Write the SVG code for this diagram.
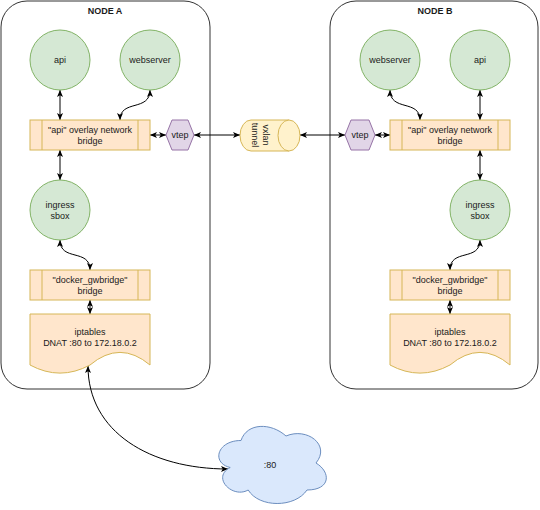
<svg xmlns="http://www.w3.org/2000/svg" width="540" height="510" viewBox="0 0 540 510">
<defs>
<marker id="arr" markerUnits="userSpaceOnUse" markerWidth="8" markerHeight="8" refX="7" refY="3" orient="auto-start-reverse" viewBox="0 0 8 6">
<path d="M0,0 L7,3 L0,6 L1.75,3 Z" fill="#000"/>
</marker>
</defs>
<style>
text{font-family:"Liberation Sans",Arial,sans-serif;font-size:9px;fill:#1a1a1a;text-anchor:middle}
.title{font-weight:bold}
.container{fill:#fff;stroke:#333;stroke-width:1}
.circ{fill:#d5e8d4;stroke:#82b366;stroke-width:1}
.bridge{fill:#ffe6cc;stroke:#d6b656;stroke-width:1}
.vtep{fill:#e1d5e7;stroke:#9673a6;stroke-width:1}
.cyl{fill:#fff2cc;stroke:#d6b656;stroke-width:1}
.cloud{fill:#dae8fc;stroke:#6c8ebf;stroke-width:1}
.edge{fill:none;stroke:#000;stroke-width:1;marker-start:url(#arr);marker-end:url(#arr)}
</style>
<g id="nodeA">
<rect class="container" x="1" y="1" width="209" height="388" rx="26" ry="26"/>
<text class="title" x="105" y="14">NODE A</text>
</g>
<g id="nodeB">
<rect class="container" x="330" y="1" width="208" height="388" rx="26" ry="26"/>
<text class="title" x="435" y="14">NODE B</text>
</g>
<g id="connectors">
<path class="edge" d="M60,90 L60,120"/>
<path class="edge" d="M150,90 C150,112 120,99 120,120"/>
<path class="edge" d="M150,135 L166,135"/>
<path class="edge" d="M194,135 L240,135"/>
<path class="edge" d="M60,150 L60,180"/>
<path class="edge" d="M60,240 C60,262 90,248 90,270"/>
<path class="edge" d="M90,300 L90,314"/>
<path class="edge" d="M88,366 C88,432 150,469 228,469"/>
<path class="edge" d="M300,135 L345,135"/>
<path class="edge" d="M375,135 L390,135"/>
<path class="edge" d="M480,90 L480,120"/>
<path class="edge" d="M390,90 C390,112 420,99 420,120"/>
<path class="edge" d="M480,150 L480,180"/>
<path class="edge" d="M480,240 C480,262 450,248 450,270"/>
<path class="edge" d="M450,300 L450,314"/>
</g>
<g id="a-api">
<circle class="circ" cx="60" cy="60" r="30"/>
<text x="60" y="63">api</text>
</g>
<g id="a-webserver">
<circle class="circ" cx="150" cy="60" r="30"/>
<text x="150" y="63">webserver</text>
</g>
<g id="a-overlay">
<rect class="bridge" x="30" y="120" width="120" height="30"/>
<path class="bridge" d="M42,120 V150 M138,120 V150"/>
<text x="90" y="133">"api" overlay network</text>
<text x="90" y="144">bridge</text>
</g>
<g id="a-vtep">
<polygon class="vtep" points="172,120 188,120 194,135 188,150 172,150 166,135"/>
<text x="180" y="138">vtep</text>
</g>
<g id="a-ingress">
<circle class="circ" cx="60" cy="210" r="30"/>
<text x="60" y="208">ingress</text>
<text x="60" y="219">sbox</text>
</g>
<g id="a-gwbridge">
<rect class="bridge" x="30" y="270" width="120" height="30"/>
<path class="bridge" d="M42,270 V300 M138,270 V300"/>
<text x="90" y="283">"docker_gwbridge"</text>
<text x="90" y="294">bridge</text>
</g>
<g id="a-iptables">
<path class="bridge" d="M30,314 H150 V365 Q120,339.8 90,365 Q60,381.2 30,365 Z"/>
<text x="90" y="335">iptables</text>
<text x="90" y="346">DNAT :80 to 172.18.0.2</text>
</g>
<g id="vxlan">
<path class="cyl" d="M251,120 L289,120 A11,15.5 0 0 1 289,151 L251,151 A11,15.5 0 0 1 251,120 Z"/>
<path class="cyl" d="M289,120 A11,15.5 0 0 0 289,151" fill="none"/>
<text transform="translate(260,135) rotate(90)" x="0" y="-2.5">vxlan</text>
<text transform="translate(260,135) rotate(90)" x="0" y="8.5">tunnel</text>
</g>
<g id="b-vtep">
<polygon class="vtep" points="351,120 369,120 375,135 369,150 351,150 345,135"/>
<text x="360" y="138">vtep</text>
</g>
<g id="b-webserver">
<circle class="circ" cx="390" cy="60" r="30"/>
<text x="390" y="63">webserver</text>
</g>
<g id="b-api">
<circle class="circ" cx="480" cy="60" r="30"/>
<text x="480" y="63">api</text>
</g>
<g id="b-overlay">
<rect class="bridge" x="390" y="120" width="120" height="30"/>
<path class="bridge" d="M402,120 V150 M498,120 V150"/>
<text x="450" y="133">"api" overlay network</text>
<text x="450" y="144">bridge</text>
</g>
<g id="b-ingress">
<circle class="circ" cx="480" cy="210" r="30"/>
<text x="480" y="208">ingress</text>
<text x="480" y="219">sbox</text>
</g>
<g id="b-gwbridge">
<rect class="bridge" x="390" y="270" width="120" height="30"/>
<path class="bridge" d="M402,270 V300 M498,270 V300"/>
<text x="450" y="283">"docker_gwbridge"</text>
<text x="450" y="294">bridge</text>
</g>
<g id="b-iptables">
<path class="bridge" d="M390,314 H510 V365 Q480,339.8 450,365 Q420,381.2 390,365 Z"/>
<text x="450" y="335">iptables</text>
<text x="450" y="346">DNAT :80 to 172.18.0.2</text>
</g>
<g id="cloud">
<path class="cloud" d="M241,440.5 C217,440.5 211,463 230.2,467.5 C211,477.4 232.6,499 248.2,490 C259,508 295,508 307,490 C331,490 331,472 316,463 C331,445 307,427 286,436 C271,422.5 247,422.5 241,440.5 Z"/>
<text x="270" y="468">:80</text>
</g>
</svg>
